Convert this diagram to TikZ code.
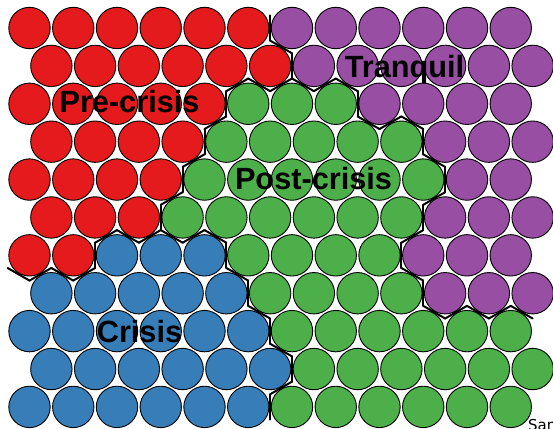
\documentclass[tikz,border=0pt]{standalone}
\usepackage{fontspec}
\setmainfont{Liberation Sans}
\newfontfamily\notefont{DejaVu Sans}

\definecolor{som1}{HTML}{E41A1C} % pre-crisis
\definecolor{som2}{HTML}{984EA3} % tranquil
\definecolor{som3}{HTML}{4DAF4A} % post-crisis
\definecolor{som4}{HTML}{377EB8} % crisis

% cluster of every unit, row by row, 12 units a row
\def\somclus{{%
1,1,1,1,1,1,2,2,2,2,2,2,%
1,1,1,1,1,1,2,2,2,2,2,2,%
1,1,1,1,1,3,3,3,2,2,2,2,%
1,1,1,1,3,3,3,3,3,2,2,2,%
1,1,1,1,3,3,3,3,3,3,2,2,%
1,1,1,3,3,3,3,3,3,2,2,2,%
1,1,4,4,4,3,3,3,3,2,2,2,%
4,4,4,4,4,3,3,3,3,2,2,2,%
4,4,4,4,4,4,3,3,3,3,3,3,%
4,4,4,4,4,4,3,3,3,3,3,3,%
4,4,4,4,4,4,3,3,3,3,3,3}}

\tikzset{
  unit/.style={draw=black, line width=0.9pt},
  border/.style={draw=black, line width=2pt, line cap=round},
  lbl/.style={font=\fontsize{30.7}{34}\selectfont\bfseries, anchor=base, inner sep=0pt}
}

\begin{document}
\begin{tikzpicture}[x=1pt, y=-1pt]
  \useasboundingbox (0,0) rectangle (553,428);

  % units of the map
  \foreach \row in {0,...,10}{
    \foreach \col in {0,...,11}{
      \pgfmathtruncatemacro\uk{\somclus[12*\row+\col]}
      \pgfmathsetmacro\ux{29.5+43.75*\col+21.875*mod(\row,2)}
      \pgfmathsetmacro\uy{28+37.89*\row}
      \filldraw[unit, fill=som\uk] (\ux,\uy) circle[radius=20.7pt];
    }
  }

  % cluster boundaries
  \foreach \row in {0,...,10}{
    \foreach \col in {0,...,11}{
      \pgfmathtruncatemacro\uk{\somclus[12*\row+\col]}
      \pgfmathsetmacro\ux{29.5+43.75*\col+21.875*mod(\row,2)}
      \pgfmathsetmacro\uy{28+37.89*\row}
      \ifnum\col<11
        \pgfmathtruncatemacro\kn{\somclus[12*\row+\col+1]}
        \ifnum\kn=\uk\else
          \draw[border] (\ux+21.875,\uy-12.63) -- (\ux+21.875,\uy+12.63);
        \fi
      \fi
      \ifnum\row<10
        \pgfmathtruncatemacro\nl{\col-1+mod(\row,2)}
        \pgfmathtruncatemacro\nr{\col+mod(\row,2)}
        \ifnum\nl>-1
          \pgfmathtruncatemacro\kn{\somclus[12*(\row+1)+\nl]}
          \ifnum\kn=\uk\else
            \draw[border] (\ux-21.875,\uy+12.63) -- (\ux,\uy+25.26);
          \fi
        \fi
        \ifnum\nr<12
          \pgfmathtruncatemacro\kn{\somclus[12*(\row+1)+\nr]}
          \ifnum\kn=\uk\else
            \draw[border] (\ux,\uy+25.26) -- (\ux+21.875,\uy+12.63);
          \fi
        \fi
      \fi
    }
  }
  \draw[border] (7.625,267.97) -- (29.5,280.6);

  % cluster names
  \node[lbl] (pre) at (129.5,112.7) {Pre-crisis};
  \node[lbl] (tranquil) at (404.5,77.3) {Tranquil};
  \node[lbl] (post) at (313.5,189.5) {Post-crisis};
  \node[lbl] (crisis) at (139.5,342.8) {Crisis};

  \node[font=\notefont\fontsize{15}{18}\selectfont, anchor=base west, inner sep=0pt] (note) at (528,430) {Sam};
\end{tikzpicture}
\end{document}
